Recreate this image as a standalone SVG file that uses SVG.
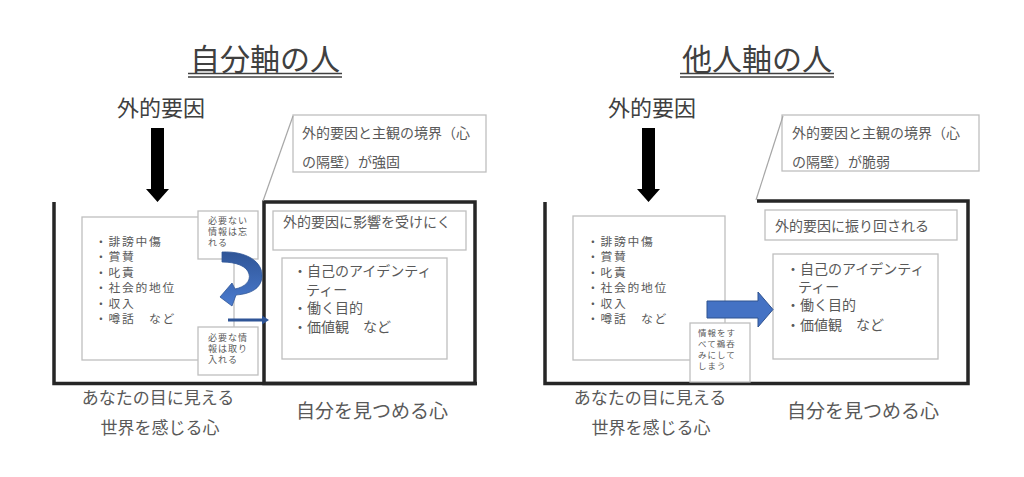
<svg xmlns="http://www.w3.org/2000/svg" width="1024" height="477" viewBox="0 0 1024 477">
<defs>
<style>
text{font-family:"Noto Sans CJK JP","Noto Sans",sans-serif;fill:#595959}
.title{font-size:30px;fill:#404040;text-anchor:middle}
.ext{font-size:22px;fill:#404040;text-anchor:middle}
.box{fill:#fff;stroke:#bfbfbf;stroke-width:1.3}
.frame{fill:none;stroke:#262626;stroke-width:3.5}
.li{font-size:11.8px;letter-spacing:1.7px}
.t14{font-size:14px}
.sm{font-size:9px;letter-spacing:1px}
.sm2{font-size:8.5px;letter-spacing:1px}
.lbl{font-size:17px;text-anchor:middle}
.lbl2{font-size:19px;text-anchor:middle}
.ul{stroke:#404040;stroke-width:1.6}
</style>
<linearGradient id="g1" x1="0" y1="0" x2="0" y2="1">
<stop offset="0" stop-color="#2f5597"/>
<stop offset="1" stop-color="#4a7bcf"/>
</linearGradient>
</defs>

<!-- LEFT PANEL -->
<g id="title-left">
<text class="title" x="265" y="70">自分軸の人</text>
<line class="ul" x1="188" y1="73.5" x2="342" y2="73.5"/>
<line class="ul" x1="188" y1="77" x2="342" y2="77"/>
</g>
<g id="ext-left">
<text class="ext" x="161" y="116">外的要因</text>
</g>
<g id="frame-left">
<polyline class="frame" points="54,202 54,383.5 477,383.5"/>
<rect class="frame" x="264" y="202" width="211" height="181.5"/>
</g>
<g id="callout-left">
<rect class="box" x="293" y="115" width="193" height="57"/>
<line x1="293" y1="116" x2="263" y2="201" stroke="#a6a6a6" stroke-width="1.2"/>
<text class="t14" x="302" y="138">外的要因と主観の境界（心</text>
<text class="t14" x="302" y="167">の隔壁）が強固</text>
</g>
<g id="list-left">
<rect class="box" x="82" y="217" width="152" height="143"/>
<text class="li" x="95" y="246">・誹謗中傷</text>
<text class="li" x="95" y="261.4">・賞賛</text>
<text class="li" x="95" y="276.8">・叱責</text>
<text class="li" x="95" y="292.2">・社会的地位</text>
<text class="li" x="95" y="307.6">・収入</text>
<text class="li" x="95" y="323">・噂話　など</text>
</g>
<g id="forget-left">
<rect class="box" x="198" y="211" width="60" height="48"/>
<text class="sm" x="208" y="224">必要ない</text>
<text class="sm" x="208" y="235">情報は忘</text>
<text class="sm" x="208" y="246">れる</text>
</g>
<g id="take-left">
<rect class="box" x="198" y="327" width="60" height="48"/>
<text class="sm" x="208" y="341">必要な情</text>
<text class="sm" x="208" y="352">報は取り</text>
<text class="sm" x="208" y="363">入れる</text>
</g>
<g id="head-left">
<rect class="box" x="273" y="211" width="193" height="39"/>
<text class="t14" x="283" y="227">外的要因に影響を受けにく</text>
</g>
<g id="self-left">
<rect class="box" x="282" y="258" width="165" height="101"/>
<text class="t14" x="293" y="276">・自己のアイデンティ</text>
<text class="t14" x="306" y="295">ティー</text>
<text class="t14" x="293" y="313">・働く目的</text>
<text class="t14" x="293" y="332">・価値観　など</text>
</g>

<!-- RIGHT PANEL -->
<g id="title-right">
<text class="title" x="757" y="70">他人軸の人</text>
<line class="ul" x1="680" y1="73.5" x2="834" y2="73.5"/>
<line class="ul" x1="680" y1="77" x2="834" y2="77"/>
</g>
<g id="ext-right">
<text class="ext" x="652" y="116">外的要因</text>
</g>
<g id="frame-right">
<polyline class="frame" points="545,202 545,383.5 968,383.5 968,201 757,201"/>
</g>
<g id="callout-right">
<rect class="box" x="782" y="115" width="197" height="56"/>
<line x1="783" y1="116" x2="756" y2="200" stroke="#a6a6a6" stroke-width="1.2"/>
<text class="t14" x="792" y="138">外的要因と主観の境界（心</text>
<text class="t14" x="792" y="167">の隔壁）が脆弱</text>
</g>
<g id="list-right">
<rect class="box" x="573" y="216" width="152" height="144"/>
<text class="li" x="587" y="246">・誹謗中傷</text>
<text class="li" x="587" y="261.4">・賞賛</text>
<text class="li" x="587" y="276.8">・叱責</text>
<text class="li" x="587" y="292.2">・社会的地位</text>
<text class="li" x="587" y="307.6">・収入</text>
<text class="li" x="587" y="323">・噂話　など</text>
</g>
<g id="swallow-right">
<rect class="box" x="690" y="323" width="60" height="59"/>
<text class="sm2" x="698" y="336">情報をす</text>
<text class="sm2" x="698" y="347">べて鵜呑</text>
<text class="sm2" x="698" y="358">みにして</text>
<text class="sm2" x="698" y="369">しまう</text>
</g>
<g id="head-right">
<rect class="box" x="765" y="210" width="192" height="30"/>
<text class="t14" x="775" y="231">外的要因に振り回される</text>
</g>
<g id="self-right">
<rect class="box" x="773" y="254" width="165" height="105"/>
<text class="t14" x="786" y="274">・自己のアイデンティ</text>
<text class="t14" x="798" y="292">ティー</text>
<text class="t14" x="786" y="310">・働く目的</text>
<text class="t14" x="786" y="330">・価値観　など</text>
</g>

<!-- bottom labels -->
<g id="label-world-left">
<text class="lbl" x="158" y="403.5">あなたの目に見える</text>
<text class="lbl" x="160" y="433.5">世界を感じる心</text>
</g>
<g id="label-self-left">
<text class="lbl2" x="372" y="418">自分を見つめる心</text>
</g>
<g id="label-world-right">
<text class="lbl" x="650" y="403.5">あなたの目に見える</text>
<text class="lbl" x="651" y="433.5">世界を感じる心</text>
</g>
<g id="label-self-right">
<text class="lbl2" x="863" y="418">自分を見つめる心</text>
</g>

<!-- connectors -->
<g id="connectors">
<polygon points="151,128 164,128 164,189 169,189 157.5,202 146,189 151,189" fill="#000"/>
<polygon points="642,128 655,128 655,189 660,189 648.5,202 637,189 642,189" fill="#000"/>
<path d="M222,252 C247,251 263,262 262,277 C261,289 250,294 236,295 L232,306 L220,297 L232,283 L235,289 C245,287 251,281 249,274 C247,266 236,262 222,262 Z" fill="url(#g1)" stroke="#2f5597" stroke-width="0.8"/>
<path d="M228,318.5 L262,318.5 L262,315.5 L269,320 L262,324.5 L262,321.5 L228,321.5 Z" fill="#2f5597"/>
<path d="M707,301 L758,301 L758,292 L773,309.5 L758,327 L758,318 L707,318 Z" fill="#4472c4" stroke="#2f528f" stroke-width="1"/>
</g>
</svg>
